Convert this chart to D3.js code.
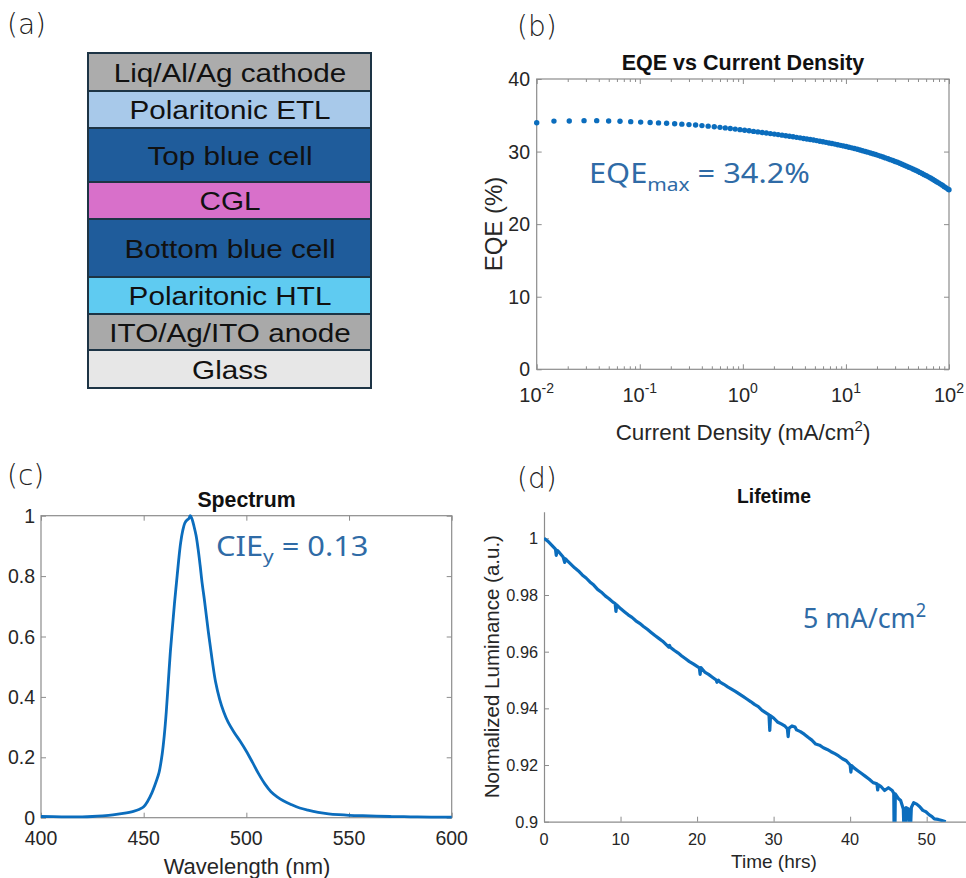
<!DOCTYPE html>
<html><head><meta charset="utf-8">
<script src="https://cdn.jsdelivr.net/npm/d3@7"></script>
<style>body{margin:0;background:#fff}svg{display:block}</style>
</head><body>
<svg id="c" width="966" height="878"></svg>
<script>
// ---------------- DATA ----------------
const layers = ["Liq/Al/Ag cathode","Polaritonic ETL","Top blue cell","CGL","Bottom blue cell","Polaritonic HTL","ITO/Ag/ITO anode","Glass"];
const layerWeight = [38,37,54,37,58,37,36,38];

const eqeJ = [0.0100,0.0147,0.0207,0.0288,0.0382,0.0499,0.0643,0.0817,0.102,0.126,0.152,0.182,0.218,0.256,0.300,0.348,0.401,0.461,0.528,0.600,0.675,0.755,0.843,0.938,1.04,1.15,
 1.27,1.40,1.54,1.69,1.85,2.02,2.20,2.40,2.61,2.83,3.07,3.32,3.59,3.88,4.18,4.50,4.84,5.20,5.58,5.98,6.40,6.85,7.32,7.81,8.33,8.88,9.45,10.05,
 10.7,11.4,12.1,12.9,13.7,14.5,15.4,16.3,17.3,18.3,19.4,20.5,21.7,22.9,24.2,25.6,27.0,28.5,30.0,31.6,33.3,35.0,36.8,38.7,40.7,42.8,45.0,47.3,49.7,
 52.2,54.8,57.5,60.3,63.2,66.2,69.3,72.5,75.8,79.2,82.7,86.3,90.0,93.8,97.7,100];
const eqeVal = [33.98,34.2,34.22,34.26,34.26,34.22,34.18,34.12,34.06,34.0,33.95,33.9,33.84,33.78,33.72,33.66,33.58,33.5,33.42,33.34,33.26,33.18,33.1,33.02,32.94,32.86,
 32.78,32.71,32.63,32.56,32.48,32.41,32.34,32.26,32.18,32.11,32.04,31.96,31.89,31.81,31.74,31.66,31.59,31.51,31.43,31.35,31.27,31.19,31.11,31.03,30.94,30.86,30.78,30.69,
 30.60,30.51,30.42,30.32,30.22,30.12,30.02,29.92,29.81,29.71,29.59,29.48,29.37,29.25,29.13,29.01,28.89,28.76,28.64,28.52,28.39,28.26,28.12,27.99,27.85,27.72,27.57,27.43,27.29,
 27.13,26.98,26.82,26.68,26.52,26.35,26.18,26.02,25.85,25.69,25.52,25.35,25.17,25.0,24.83,24.73];
const eqeXTicks = [0.01,0.1,1,10,100];
const eqeYTicks = [0,10,20,30,40];

const specWl = [400,410,420,425,430,435,440,445,448,450,452,454,456,457.5,459,460,461,462,463,464,465,466,467,468,469,470,471,472,472.7,473.5,
 474.5,475.5,476.5,477.5,478.5,479.5,480.5,481.5,482.5,483.5,485,487,489,491,494,497,500,503,506,509,512,515,518,522,526,530,535,540,545,550,560,570,580,590,600];
const specI = [0.004,0.003,0.003,0.004,0.006,0.009,0.014,0.021,0.028,0.036,0.055,0.082,0.118,0.15,0.21,0.27,0.35,0.45,0.55,0.63,0.71,0.78,0.85,0.91,0.95,0.975,0.985,0.99,1.0,0.99,
 0.965,0.935,0.89,0.835,0.775,0.725,0.67,0.615,0.565,0.515,0.45,0.392,0.35,0.318,0.283,0.253,0.22,0.183,0.145,0.112,0.086,0.069,0.056,0.043,0.032,0.025,0.018,0.013,0.01,0.008,0.006,0.004,0.003,0.002,0.002];
const specXTicks = [400,450,500,550,600];
const specYTicks = [0,0.2,0.4,0.6,0.8,1];

const lifeData = [[0,1.0000],[0.5,0.9990],[1,0.9976],[1.5,0.9962],[1.6,0.9940],[1.7,0.9958],[2,0.9950],[2.5,0.9934],[2.7,0.9915],[2.8,0.9928],[3,0.9922],[3.5,0.9909],
 [4,0.9896],[4.5,0.9885],[5,0.9871],[5.5,0.9860],[6,0.9846],[6.5,0.9835],[7,0.9820],[7.5,0.9810],[8,0.9797],[8.5,0.9787],[9,0.9775],[9.3,0.9770],[9.4,0.9742],[9.5,0.9765],
 [10,0.9752],[10.5,0.9741],[11,0.9730],[11.5,0.9721],[12,0.9709],[12.5,0.9700],[13,0.9689],[13.5,0.9679],[14,0.9668],[14.5,0.9657],[15,0.9647],[15.5,0.9637],[16,0.9624],
 [16.3,0.9616],[16.4,0.9622],[16.5,0.9616],[17,0.9605],[17.5,0.9596],[18,0.9585],[18.5,0.9575],[19,0.9565],[19.5,0.9557],[20,0.9548],[20.3,0.9543],[20.4,0.9520],[20.5,0.9544],
 [21,0.9528],[21.5,0.9520],[22,0.9510],[22.5,0.9500],[22.6,0.9492],[22.8,0.9499],[23,0.9493],[23.5,0.9485],[24,0.9476],[24.5,0.9468],[25,0.9460],[25.5,0.9451],[26,0.9442],
 [26.5,0.9433],[27,0.9424],[27.5,0.9414],[28,0.9406],[28.5,0.9393],[29,0.9384],[29.4,0.9377],[29.5,0.9322],[29.6,0.9374],[30,0.9366],[30.5,0.9352],[31,0.9345],[31.5,0.9337],
 [31.8,0.9328],[31.9,0.9300],[32,0.9330],[32.4,0.9338],[32.8,0.9334],[33,0.9324],[33.5,0.9318],[34,0.9309],[34.5,0.9298],[35,0.9288],[35.5,0.9274],[36,0.9270],[36.5,0.9261],
 [37,0.9255],[37.5,0.9247],[38,0.9240],[38.5,0.9232],[39,0.9222],[39.5,0.9215],[40,0.9200],[40.1,0.9175],[40.2,0.9198],[40.5,0.9190],[41,0.9180],[41.5,0.9170],[42,0.9160],
 [42.5,0.9150],[43,0.9138],[43.5,0.9134],[43.6,0.9112],[43.7,0.9130],[44,0.9125],[44.5,0.9110],[45,0.9120],[45.5,0.9110],[45.7,0.9100],[45.75,0.8950],[45.85,0.8950],[45.9,0.9098],
 [46.3,0.9082],[46.6,0.9075],[46.95,0.9045],[47.05,0.8950],[47.15,0.8950],[47.3,0.9050],[47.6,0.9045],[47.75,0.8950],[47.85,0.8950],[48,0.9050],[48.3,0.9067],[48.7,0.9062],
 [49.1,0.9053],[49.5,0.9040],[49.9,0.9035],[50.3,0.9025],[50.7,0.9018],[51,0.9010],[51.5,0.9008],[52,0.9004],[52.5,0.9000]];
const lifeXTicks = [0,10,20,30,40,50];
const lifeYTicks = [0.9,0.92,0.94,0.96,0.98,1];

// ---------------- STYLE ----------------
const FONT = '"Liberation Sans", Arial, Helvetica, sans-serif';
const ANNFONT = '"Noto Sans", "Liberation Sans", sans-serif';
const AXC = "#8c8c8c", TXC = "#262626", BLUE = "#0b6dbd", ANN = "#2f6ba6";
const layerColors = ["#acacac","#a8c9ea","#1f5c9b","#d870ca","#1f5c9b","#5fcbf1","#a9a9a9","#e7e7e7"];

const svg = d3.select("#c").attr("font-family", FONT);

function txt(g, x, y, s, size, opt = {}) {
  return g.append("text").attr("x", x).attr("y", y).attr("font-size", size)
    .attr("text-anchor", opt.anchor || "middle").attr("fill", opt.fill || TXC)
    .attr("font-weight", opt.weight || "normal").text(s);
}

// panel letters
const PL = '"DejaVu Sans", "Liberation Sans", sans-serif';
[["(a)",7,34],["(b)",517,36],["(c)",7,485],["(d)",517,488]].forEach(([s,x,y]) => {
  svg.append("text").attr("x",x).attr("y",y).attr("font-family",PL).attr("font-weight",200)
    .attr("font-size",28).attr("fill","#222").text(s);
});

// ---------------- (a) device stack ----------------
const gA = svg.append("g");
const cum = d3.cumsum(layerWeight);
const yA = d3.scaleLinear().domain([0, d3.sum(layerWeight)]).range([53, 388]);
layers.forEach((name, i) => {
  const y0 = yA(i ? cum[i-1] : 0), y1 = yA(cum[i]);
  gA.append("rect").attr("x", 88).attr("y", y0).attr("width", 283).attr("height", y1 - y0)
    .attr("fill", layerColors[i]).attr("stroke", "#1d3445").attr("stroke-width", 2);
  gA.append("text").attr("transform", `translate(230,${(y0+y1)/2 + 9.6}) scale(1.12,1)`)
    .attr("text-anchor","middle").attr("font-size",26.5).attr("fill","#111").text(name);
});

// ---------------- (b) EQE ----------------
const gB = svg.append("g");
const xB = d3.scaleLog().domain([1e-2, 1e2]).range([536.7, 949]);
const yB = d3.scaleLinear().domain([0, 40]).range([369.3, 79]);
function boxAxes(g, x, y, xt, yt, opt) {
  const [x0, x1] = x.range(), [y0, y1] = y.range();
  const ax = g.append("g").attr("color", AXC);
  const noLab = () => "";
  if (opt.minor) {
    const mn = x.ticks().filter(v => !xt.includes(v));
    ax.append("g").attr("transform", `translate(0,${y0})`).call(d3.axisBottom(x).tickValues(mn).tickSize(-3).tickSizeOuter(0).tickFormat(noLab));
    ax.append("g").attr("transform", `translate(0,${y1})`).call(d3.axisTop(x).tickValues(mn).tickSize(-3).tickSizeOuter(0).tickFormat(noLab));
  }
  ax.append("g").attr("transform", `translate(0,${y0})`).call(d3.axisBottom(x).tickValues(xt).tickSize(-5).tickSizeOuter(0).tickFormat(noLab));
  ax.append("g").attr("transform", `translate(0,${y1})`).call(d3.axisTop(x).tickValues(xt).tickSize(-5).tickSizeOuter(0).tickFormat(noLab));
  ax.append("g").attr("transform", `translate(${x0},0)`).call(d3.axisLeft(y).tickValues(yt).tickSize(-5).tickSizeOuter(0).tickFormat(noLab));
  ax.append("g").attr("transform", `translate(${x1},0)`).call(d3.axisRight(y).tickValues(yt).tickSize(-5).tickSizeOuter(0).tickFormat(noLab));
  ax.selectAll(".domain").remove();
  ax.append("rect").attr("x", x0).attr("y", y1).attr("width", x1 - x0).attr("height", y0 - y1)
    .attr("fill", "none").attr("stroke", AXC).attr("stroke-width", 1.2);
  ax.selectAll(".tick line").attr("stroke-width", 1);
}
boxAxes(gB, xB, yB, eqeXTicks, eqeYTicks, {minor: true});
eqeYTicks.forEach(v => txt(gB, 530, yB(v) + 7, String(v), 19.5, {anchor: "end"}));
eqeXTicks.forEach(v => {
  const t = txt(gB, xB(v), 402, "", 20);
  t.append("tspan").text("10");
  t.append("tspan").attr("dy", -9).attr("font-size", 14).text(String(Math.round(Math.log10(v))));
});
txt(gB, 743, 70, "EQE vs Current Density", 21.5, {weight: "bold", fill: "#111"});
const xl = txt(gB, 743, 440, "Current Density (mA/cm", 22.4);
xl.append("tspan").attr("dy", -9).attr("font-size", 15).text("2");
xl.append("tspan").attr("dy", 9).text(")");
gB.append("text").attr("transform", "translate(501.5,224) rotate(-90)").attr("text-anchor","middle")
  .attr("font-size", 24).attr("fill", TXC).text("EQE (%)");
gB.append("g").selectAll("circle").data(eqeJ).join("circle")
  .attr("cx", (d) => xB(d)).attr("cy", (d, i) => yB(eqeVal[i])).attr("r", 2.7).attr("fill", BLUE);
{
  const t = gB.append("text").attr("transform", "translate(589,183) scale(1.1,1)").attr("font-family", ANNFONT)
    .attr("font-size", 28).attr("fill", ANN);
  t.append("tspan").text("EQE");
  t.append("tspan").attr("dy", 8).attr("font-size", 19).text("max");
  t.append("tspan").attr("dy", -8).text(" = 34.2%");
}

// ---------------- (c) Spectrum ----------------
const gC = svg.append("g");
const xC = d3.scaleLinear().domain([400, 600]).range([41, 451.7]);
const yC = d3.scaleLinear().domain([0, 1]).range([817.7, 515.7]);
boxAxes(gC, xC, yC, specXTicks, specYTicks, {});
specYTicks.forEach(v => txt(gC, 35, yC(v) + 7, String(v), 19.5, {anchor: "end"}));
specXTicks.forEach(v => txt(gC, xC(v), 845, String(v), 19.5));
txt(gC, 246.5, 507, "Spectrum", 21.3, {weight: "bold", fill: "#111"});
txt(gC, 247, 874, "Wavelength (nm)", 22);
gC.append("path").datum(specWl).attr("fill", "none").attr("stroke", BLUE).attr("stroke-width", 2.8)
  .attr("stroke-linejoin", "round")
  .attr("d", d3.line().x(d => xC(d)).y((d, i) => yC(specI[i])).curve(d3.curveCatmullRom.alpha(0.5)));
{
  const t = gC.append("text").attr("transform", "translate(216,556) scale(1.1,1)").attr("font-family", ANNFONT)
    .attr("font-size", 28).attr("fill", ANN);
  t.append("tspan").text("CIE");
  t.append("tspan").attr("dy", 7).attr("font-size", 19).text("y");
  t.append("tspan").attr("dy", -7).text(" = 0.13");
}

// ---------------- (d) Lifetime ----------------
const gD = svg.append("g");
const xD = d3.scaleLinear().domain([0, 60]).range([544, 1003.2]);
const yD = d3.scaleLinear().domain([0.9, 1.0094]).range([821.7, 511.7]);
svg.append("defs").append("clipPath").attr("id", "clipD").append("rect")
  .attr("x", 544).attr("y", 511.7).attr("width", 460).attr("height", 310);
const axD = gD.append("g").attr("color", AXC);
axD.append("g").attr("transform", "translate(0,821.7)")
  .call(d3.axisBottom(xD).tickValues(lifeXTicks).tickSize(-5).tickSizeOuter(0).tickFormat(() => ""));
axD.append("g").attr("transform", "translate(544,0)")
  .call(d3.axisLeft(yD).tickValues(lifeYTicks).tickSize(-5).tickSizeOuter(0).tickFormat(() => ""));
axD.selectAll(".domain").attr("stroke-width", 1.2);
lifeYTicks.forEach(v => txt(gD, 538, yD(v) + 6, String(+v.toFixed(2)), 16.3, {anchor: "end"}));
lifeXTicks.forEach(v => txt(gD, xD(v), 845, String(v), 16.3));
txt(gD, 774, 503, "Lifetime", 19.3, {weight: "bold", fill: "#111"});
txt(gD, 774, 868, "Time (hrs)", 19);
gD.append("text").attr("transform", "translate(498.5,666.7) rotate(-90)").attr("text-anchor","middle")
  .attr("font-size", 20.5).attr("fill", TXC).text("Normalized Luminance (a.u.)");
gD.append("path").datum(lifeData).attr("clip-path", "url(#clipD)").attr("fill", "none")
  .attr("stroke", BLUE).attr("stroke-width", 3.2).attr("stroke-linejoin", "round")
  .attr("d", d3.line().x(d => xD(d[0])).y(d => yD(d[1])));
{
  const t = gD.append("text").attr("transform", "translate(803,628) scale(0.96,1)").attr("font-family", ANNFONT)
    .attr("font-size", 28).attr("fill", ANN);
  t.append("tspan").text("5 mA/cm");
  t.append("tspan").attr("dy", -11).attr("font-size", 19).text("2");
}
</script>
</body></html>
